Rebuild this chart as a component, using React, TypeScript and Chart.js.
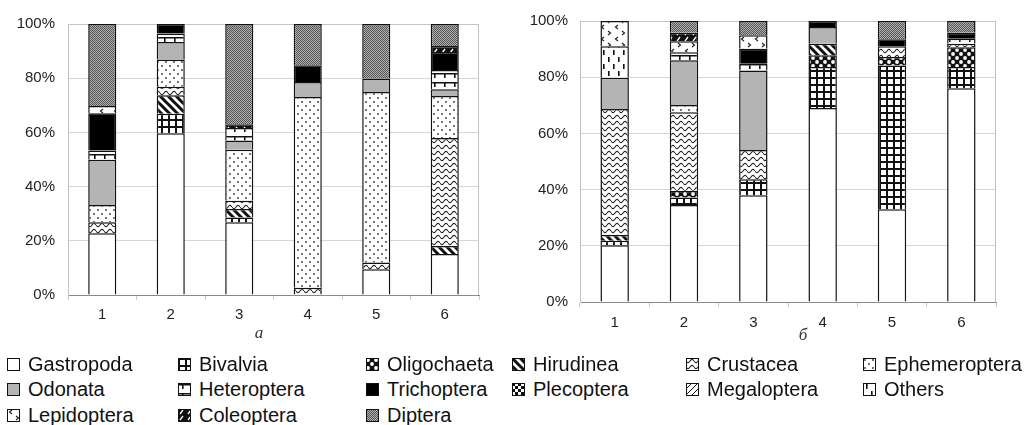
import React, { useEffect, useRef } from "react";
import { Chart, registerables } from "chart.js";
Chart.register(...registerables);

// ---------- DATA ----------
const categories = ["1", "2", "3", "4", "5", "6"];
const seriesNames = [
  "Gastropoda", "Bivalvia", "Oligochaeta", "Hirudinea", "Crustacea",
  "Ephemeroptera", "Odonata", "Heteroptera", "Trichoptera", "Plecoptera",
  "Megaloptera", "Others", "Lepidoptera", "Coleoptera", "Diptera",
];
const yTicks = [0, 20, 40, 60, 80, 100];
const panelLabels = ["а", "б"];

// Panel "а"
const aGastropoda = [22.8, 59.7, 26.8, 0, 9.5, 15.1];
const aBivalvia = [0, 7.2, 1.8, 0, 0, 0];
const aOligochaeta = [0, 0, 0, 0, 0, 0];
const aHirudinea = [0, 6.8, 3.1, 0, 0, 3.0];
const aCrustacea = [4.0, 3.1, 3.1, 2.7, 2.5, 39.8];
const aEphemeroptera = [6.4, 10.1, 18.8, 70.4, 62.9, 15.5];
const aOdonata = [16.7, 6.5, 3.4, 5.5, 5.0, 2.5];
const aHeteroptera = [3.4, 3.1, 4.6, 0, 0, 7.1];
const aTrichoptera = [13.8, 3.5, 0, 6.2, 0, 6.7];
const aPlecoptera = [0, 0, 0, 0, 0, 0];
const aMegaloptera = [0, 0, 0, 0, 0, 0];
const aOthers = [0, 0, 0, 0, 0, 0];
const aLepidoptera = [2.6, 0, 0, 0, 0, 0];
const aColeoptera = [0, 0, 1.4, 0, 0, 2.2];
const aDiptera = [30.3, 0, 37.0, 15.2, 20.1, 8.1];

// Panel "б"
const bGastropoda = [20.2, 34.5, 38.0, 69.0, 33.0, 76.1];
const bBivalvia = [1.6, 2.7, 5.7, 14.6, 51.2, 7.5];
const bOligochaeta = [0, 2.4, 0, 4.2, 3.0, 7.1];
const bHirudinea = [2.0, 0, 0, 4.1, 0, 0];
const bCrustacea = [44.9, 27.9, 10.4, 0, 3.8, 1.2];
const bEphemeroptera = [0, 2.6, 0, 0, 0, 0];
const bOdonata = [11.1, 15.9, 28.3, 6.0, 0, 0];
const bHeteroptera = [0, 2.9, 2.4, 0, 0, 1.8];
const bTrichoptera = [0, 0, 5.3, 2.1, 2.5, 2.1];
const bPlecoptera = [0, 0, 0, 0, 0, 0];
const bMegaloptera = [0, 0, 0, 0, 0, 0];
const bOthers = [11.2, 0, 0, 0, 0, 0];
const bLepidoptera = [9.0, 3.9, 4.8, 0, 0, 0];
const bColeoptera = [0, 3.0, 0, 0, 0, 0];
const bDiptera = [0, 4.2, 5.1, 0, 6.5, 4.2];

const panelA = [aGastropoda, aBivalvia, aOligochaeta, aHirudinea, aCrustacea, aEphemeroptera, aOdonata, aHeteroptera, aTrichoptera, aPlecoptera, aMegaloptera, aOthers, aLepidoptera, aColeoptera, aDiptera];
const panelB = [bGastropoda, bBivalvia, bOligochaeta, bHirudinea, bCrustacea, bEphemeroptera, bOdonata, bHeteroptera, bTrichoptera, bPlecoptera, bMegaloptera, bOthers, bLepidoptera, bColeoptera, bDiptera];

// ---------- PATTERNS ----------
function tile(w: number, h: number, draw: (g: CanvasRenderingContext2D) => void) {
  const c = document.createElement("canvas");
  c.width = w;
  c.height = h;
  const g = c.getContext("2d")!;
  draw(g);
  return c;
}

function makeFill(ctx: CanvasRenderingContext2D, name: string): string | CanvasPattern {
  const pat = (c: HTMLCanvasElement) => ctx.createPattern(c, "repeat") as CanvasPattern;
  switch (name) {
    case "Gastropoda":
      return "#ffffff";
    case "Bivalvia":
      return pat(tile(7, 7, (g) => {
        g.fillStyle = "#fff"; g.fillRect(0, 0, 7, 7);
        g.fillStyle = "#111"; g.fillRect(0, 0, 7, 2); g.fillRect(0, 0, 2, 7);
      }));
    case "Oligochaeta":
      return pat(tile(8, 8, (g) => {
        g.fillStyle = "#111"; g.fillRect(0, 0, 8, 8);
        g.fillStyle = "#fff";
        g.beginPath(); g.arc(2, 2, 1.9, 0, Math.PI * 2); g.fill();
        g.beginPath(); g.arc(6, 6, 1.9, 0, Math.PI * 2); g.fill();
      }));
    case "Hirudinea":
      return pat(tile(8, 8, (g) => {
        g.fillStyle = "#fff"; g.fillRect(0, 0, 8, 8);
        g.strokeStyle = "#111"; g.lineWidth = 3;
        g.beginPath();
        for (const k of [-1, 0, 1]) { g.moveTo(k * 8 - 1, -1); g.lineTo(k * 8 + 9, 9); }
        g.stroke();
      }));
    case "Crustacea":
      return pat(tile(8, 6, (g) => {
        g.fillStyle = "#fff"; g.fillRect(0, 0, 8, 6);
        g.strokeStyle = "#222"; g.lineWidth = 1.1;
        g.beginPath();
        for (let x = 0; x <= 8; x += 0.5) {
          const y = 3 + 1.6 * Math.sin((2 * Math.PI * x) / 8);
          if (x === 0) g.moveTo(x, y); else g.lineTo(x, y);
        }
        g.stroke();
      }));
    case "Ephemeroptera":
      return pat(tile(8, 8, (g) => {
        g.fillStyle = "#fff"; g.fillRect(0, 0, 8, 8);
        g.fillStyle = "#333";
        g.beginPath(); g.arc(2, 2, 0.9, 0, Math.PI * 2); g.fill();
        g.beginPath(); g.arc(6, 6, 0.9, 0, Math.PI * 2); g.fill();
      }));
    case "Odonata":
      return "#b4b4b4";
    case "Heteroptera":
      return pat(tile(10, 9, (g) => {
        g.fillStyle = "#fff"; g.fillRect(0, 0, 10, 9);
        g.fillStyle = "#111"; g.fillRect(0, 1, 10, 1.5); g.fillRect(4, 1, 1.6, 5);
      }));
    case "Trichoptera":
      return "#000000";
    case "Plecoptera":
      return pat(tile(6, 6, (g) => {
        g.fillStyle = "#fff"; g.fillRect(0, 0, 6, 6);
        g.fillStyle = "#111"; g.fillRect(0, 0, 3, 3); g.fillRect(3, 3, 3, 3);
      }));
    case "Megaloptera":
      return pat(tile(6, 6, (g) => {
        g.fillStyle = "#fff"; g.fillRect(0, 0, 6, 6);
        g.strokeStyle = "#111"; g.lineWidth = 1;
        g.beginPath();
        for (const k of [-1, 0, 1]) { g.moveTo(k * 6 - 1, 7); g.lineTo(k * 6 + 7, -1); }
        g.stroke();
      }));
    case "Others":
      return pat(tile(10, 14, (g) => {
        g.fillStyle = "#fff"; g.fillRect(0, 0, 10, 14);
        g.fillStyle = "#111"; g.fillRect(3, 1, 1.6, 5); g.fillRect(8, 8, 1.6, 5);
      }));
    case "Lepidoptera":
      return pat(tile(14, 12, (g) => {
        g.fillStyle = "#fff"; g.fillRect(0, 0, 14, 12);
        g.strokeStyle = "#222"; g.lineWidth = 1.2;
        g.beginPath();
        g.moveTo(5, 1); g.lineTo(2.5, 3); g.lineTo(5, 5);
        g.moveTo(9, 7); g.lineTo(11.5, 9); g.lineTo(9, 11);
        g.stroke();
      }));
    case "Coleoptera":
      return pat(tile(8, 6, (g) => {
        g.fillStyle = "#111"; g.fillRect(0, 0, 8, 6);
        g.strokeStyle = "#fff"; g.lineWidth = 1.3;
        g.beginPath(); g.moveTo(2, 5); g.lineTo(5, 1); g.stroke();
      }));
    case "Diptera":
      return pat(tile(2, 2, (g) => {
        g.fillStyle = "#b0b0b0"; g.fillRect(0, 0, 2, 2);
        g.fillStyle = "#555"; g.fillRect(0, 0, 1, 1); g.fillRect(1, 1, 1, 1);
      }));
  }
  return "#fff";
}

const frameLines = {
  id: "frameLines",
  beforeDatasetsDraw(chart: any) {
    const { ctx, chartArea: a } = chart;
    ctx.save();
    ctx.strokeStyle = "#c4c4c4";
    ctx.lineWidth = 1;
    ctx.beginPath();
    ctx.moveTo(a.left, a.top + 0.5);
    ctx.lineTo(a.right, a.top + 0.5);
    ctx.moveTo(a.right - 0.5, a.top);
    ctx.lineTo(a.right - 0.5, a.bottom);
    ctx.stroke();
    ctx.restore();
  },
};

type PanelProps = {
  values: number[][];
  left: number;
  width: number;
  height: number;
  plotLeft: number;
  plotRight: number;
  plotTop: number;
  plotBottom: number;
  yPad: number;
  xPad: number;
};

function Panel(p: PanelProps) {
  const ref = useRef<HTMLCanvasElement>(null);
  useEffect(() => {
    const canvas = ref.current!;
    const ctx = canvas.getContext("2d")!;
    const chart = new Chart(canvas, {
      type: "bar",
      data: {
        labels: categories,
        datasets: seriesNames.map((name, i) => ({
          label: name,
          data: p.values[i],
          backgroundColor: makeFill(ctx, name) as any,
          borderColor: "#111",
          borderWidth: 1.5,
          categoryPercentage: 1,
          barPercentage: 0.41,
        })),
      },
      options: {
        animation: false,
        responsive: false,
        maintainAspectRatio: false,
        layout: { padding: { left: 0, right: p.width - p.plotRight, top: p.plotTop, bottom: 0 } },
        plugins: { legend: { display: false }, tooltip: { enabled: false } },
        scales: {
          x: {
            stacked: true,
            grid: { display: true, drawOnChartArea: false, drawTicks: true, tickLength: 5, color: "#c8c8c8", offset: true },
            border: { color: "#8a8a8a", width: 1 },
            ticks: { color: "#222", font: { family: "'Liberation Sans', Arial, sans-serif", size: 15 }, padding: p.xPad },
            afterFit: (s: any) => { s.height = p.height - p.plotBottom; },
          },
          y: {
            stacked: true,
            min: 0,
            max: 100,
            afterBuildTicks: (s: any) => { s.ticks = yTicks.map((v) => ({ value: v })); },
            ticks: {
              color: "#222",
              font: { family: "'Liberation Sans', Arial, sans-serif", size: 15 },
              padding: p.yPad,
              callback: (v: any) => v + "%",
            },
            grid: { color: "#d6d6d6", drawTicks: false },
            border: { color: "#c4c4c4" },
            afterFit: (s: any) => { s.width = p.plotLeft; },
          },
        },
      },
      plugins: [frameLines],
    });
    return () => chart.destroy();
  }, []);
  return (
    <div style={{ position: "absolute", left: p.left, top: 0, width: p.width, height: p.height }}>
      <canvas ref={ref} width={p.width} height={p.height} style={{ width: p.width, height: p.height, display: "block" }} />
    </div>
  );
}

function Swatch({ name }: { name: string }) {
  const ref = useRef<HTMLCanvasElement>(null);
  useEffect(() => {
    const c = ref.current!;
    const g = c.getContext("2d")!;
    g.clearRect(0, 0, 13, 13);
    g.fillStyle = makeFill(g, name) as any;
    g.fillRect(0, 0, 13, 13);
    g.strokeStyle = "#111";
    g.lineWidth = 1;
    g.strokeRect(0.5, 0.5, 12, 12);
  }, []);
  return <canvas ref={ref} width={13} height={13} style={{ position: "absolute", left: 0, top: 6, width: 13, height: 13 }} />;
}

// legend grid: [series name, swatch x, row index]
const legendCols = [7, 178, 366, 512, 686, 863];
const legendRows = [352, 377, 403];
const legendLayout: [string, number, number][] = [
  ["Gastropoda", 0, 0], ["Bivalvia", 1, 0], ["Oligochaeta", 2, 0],
  ["Hirudinea", 3, 0], ["Crustacea", 4, 0], ["Ephemeroptera", 5, 0],
  ["Odonata", 0, 1], ["Heteroptera", 1, 1], ["Trichoptera", 2, 1],
  ["Plecoptera", 3, 1], ["Megaloptera", 4, 1], ["Others", 5, 1],
  ["Lepidoptera", 0, 2], ["Coleoptera", 1, 2], ["Diptera", 2, 2],
];

export default function App() {
  return (
    <div style={{ position: "absolute", left: 0, top: 0, width: 1030, height: 425, background: "#fff", overflow: "hidden" }}>
      <Panel values={panelA} left={0} width={510} height={345} plotLeft={68} plotRight={479} plotTop={24} plotBottom={295} yPad={13} xPad={6} />
      <Panel values={panelB} left={515} width={515} height={345} plotLeft={65} plotRight={481} plotTop={21} plotBottom={302} yPad={12} xPad={7} />
      <div style={{ position: "absolute", left: 259, top: 333, transform: "translate(-50%,-50%)", fontFamily: "'Liberation Serif', serif", fontStyle: "italic", fontSize: 17, color: "#333" }}>{panelLabels[0]}</div>
      <div style={{ position: "absolute", left: 803, top: 335, transform: "translate(-50%,-50%)", fontFamily: "'Liberation Serif', serif", fontStyle: "italic", fontSize: 17, color: "#333" }}>{panelLabels[1]}</div>
      {legendLayout.map(([name, col, row]) => (
        <div key={name} style={{ position: "absolute", left: legendCols[col], top: legendRows[row], height: 25, whiteSpace: "nowrap" }}>
          <Swatch name={name} />
          <span style={{ position: "absolute", left: 21, top: 0, lineHeight: "25px", fontFamily: "'Liberation Sans', Arial, sans-serif", fontSize: 20, color: "#111" }}>{name}</span>
        </div>
      ))}
    </div>
  );
}
